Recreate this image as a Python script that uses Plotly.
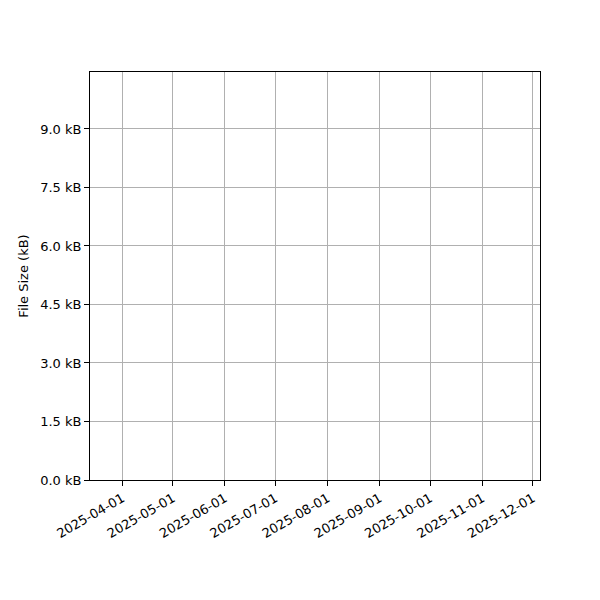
import plotly.graph_objects as go

# no data points in the reference, axes only
dates = []
sizes_kb = []

y_ticks = [0.0, 1.5, 3.0, 4.5, 6.0, 7.5, 9.0]
y_tick_labels = ['%.1f kB' % v for v in y_ticks]
x_ticks = ['2025-04-01', '2025-05-01', '2025-06-01', '2025-07-01', '2025-08-01',
           '2025-09-01', '2025-10-01', '2025-11-01', '2025-12-01']

fig = go.Figure()
fig.add_trace(go.Scatter(x=dates, y=sizes_kb, mode='lines', line=dict(color='#1f77b4')))

font = dict(family='DejaVu Sans', size=13, color='black')

# page adds ~8px offset, margins compensate
fig.update_layout(
    width=600, height=600,
    margin=dict(l=82, r=68, t=64, b=128),
    plot_bgcolor='white', paper_bgcolor='white',
    font=font,
    showlegend=False,
)
fig.update_xaxes(
    type='date',
    range=['2025-03-12 19:00', '2025-12-05 05:00'],
    tickvals=x_ticks, ticktext=x_ticks,
    tickangle=-30,
    ticks='outside', ticklen=5, tickcolor='black',
    showgrid=True, gridcolor='#b0b0b0', gridwidth=1,
    showline=True, linecolor='black', linewidth=1, mirror=True,
    zeroline=False,
)
fig.update_yaxes(
    range=[0, 10.46],
    tickvals=y_ticks, ticktext=y_tick_labels,
    ticks='outside', ticklen=5, tickcolor='black',
    showgrid=True, gridcolor='#b0b0b0', gridwidth=1,
    showline=True, linecolor='black', linewidth=1, mirror=True,
    zeroline=False,
    title=dict(text='File Size (kB)', font=dict(family='DejaVu Sans', size=13), standoff=8),
)

fig.write_html("out.html")
